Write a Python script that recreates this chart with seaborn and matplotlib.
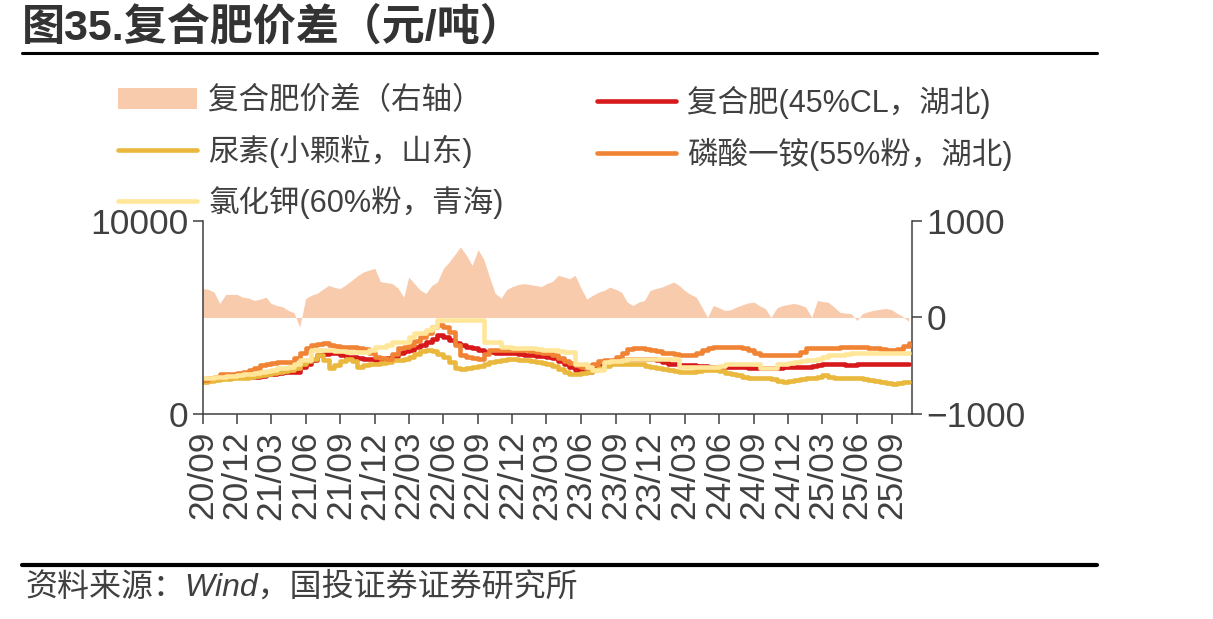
import numpy as np
import pandas as pd
import seaborn as sns
import matplotlib.pyplot as plt
from matplotlib.lines import Line2D
from matplotlib.patches import Patch

# semi-monthly observations, 2020-09-01 .. 2025-10-16 (1st and 16th of each month)
months = pd.date_range("2020-09-01", periods=62, freq="MS")
dates = pd.DatetimeIndex(sorted(list(months) + list(months + pd.Timedelta(days=15))))

spread = [
    300, 290, 262, 145, 238, 238, 238, 210, 200, 176, 190, 210,
    145, 124, 110, 72, 50, -100, 197, 230, 249, 290, 332, 310,
    300, 340, 383, 430, 470, 490, 508, 370, 360, 352, 300, 210,
    418, 350, 280, 249, 330, 366, 508, 573, 650, 729, 642, 539,
    700, 600, 420, 250, 200, 290, 320, 340, 350, 340, 330, 320,
    350, 370, 435, 420, 400, 435, 300, 190, 228, 260, 280, 314,
    290, 262, 160, 124, 160, 176, 280, 300, 314, 340, 366, 330,
    280, 240, 210, 107, 0, 124, 100, 72, 80, 107, 130, 150,
    159, 120, 93, 0, 100, 124, 135, 145, 130, 107, 0, 176,
    165, 159, 110, 55, 45, 41, -31, 41, 60, 75, 85, 93,
    80, 41, 10, -40,
]
compound = [
    1760, 1800, 1850, 1880, 1900, 1930, 1930, 1930, 1930, 1930, 2000, 2100,
    2100, 2150, 2190, 2190, 2190, 2450, 2620, 2800, 3060, 3100, 3140, 3140,
    3050, 2970, 2950, 2900, 2880, 2850, 2800, 2880, 2900, 3000, 3150, 3250,
    3320, 3450, 3600, 3750, 3900, 4090, 4000, 3830, 3700, 3580, 3500, 3400,
    3320, 3230, 3200, 3180, 3150, 3140, 3140, 3100, 3080, 3050, 3020, 3000,
    2970, 2900, 2750, 2600, 2450, 2300, 2190, 2200, 2350, 2500, 2650, 2750,
    2800, 2800, 2850, 2880, 2880, 2880, 2880, 2800, 2700, 2620, 2580, 2540,
    2540, 2540, 2500, 2480, 2460, 2450, 2450, 2450, 2450, 2450, 2420, 2400,
    2380, 2370, 2370, 2370, 2400, 2420, 2450, 2450, 2450, 2450, 2500, 2550,
    2600, 2620, 2620, 2580, 2540, 2540, 2620, 2620, 2620, 2620, 2620, 2620,
    2620, 2620, 2620, 2620,
]
urea = [
    1670, 1700, 1750, 1800, 1820, 1850, 1850, 1870, 1950, 2000, 2050, 2100,
    2150, 2200, 2250, 2300, 2400, 2620, 2750, 2880, 3060, 2800, 2400, 2550,
    2750, 2880, 2750, 2450, 2550, 2620, 2620, 2650, 2700, 2780, 2800, 2850,
    2950, 3100, 3250, 3320, 3250, 3100, 2950, 2700, 2370, 2350, 2400, 2450,
    2500, 2620, 2700, 2750, 2800, 2880, 2850, 2800, 2780, 2750, 2700, 2650,
    2620, 2500, 2350, 2200, 2100, 2100, 2150, 2190, 2300, 2400, 2500, 2580,
    2620, 2620, 2620, 2620, 2600, 2520, 2450, 2400, 2350, 2300, 2250, 2200,
    2190, 2200, 2250, 2280, 2280, 2280, 2250, 2150, 2100, 2050, 1950, 1900,
    1850, 1850, 1850, 1800, 1720, 1670, 1700, 1750, 1800, 1850, 1900, 1950,
    2020, 1950, 1850, 1900, 1850, 1850, 1850, 1800, 1750, 1700, 1650, 1620,
    1590, 1600, 1650, 1670,
]
map_price = [
    1760, 1850, 1950, 2100, 2100, 2100, 2150, 2200, 2280, 2400, 2550, 2620,
    2650, 2700, 2710, 2710, 2900, 3140, 3400, 3580, 3620, 3660, 3600, 3550,
    3490, 3490, 3450, 3400, 3350, 3150, 2970, 2900, 2880, 3100, 3400, 3490,
    3600, 3800, 4010, 4200, 4500, 4610, 4500, 4260, 3580, 3050, 2970, 2900,
    2880, 3100, 3320, 3320, 3320, 3320, 3320, 3320, 3300, 3250, 3200, 3150,
    3140, 3050, 2900, 2750, 2650, 2550, 2450, 2450, 2620, 2750, 2800, 2800,
    2950, 3150, 3350, 3400, 3400, 3350, 3320, 3250, 3150, 3140, 3100, 3060,
    3060, 3060, 3150, 3300, 3400, 3450, 3450, 3470, 3490, 3450, 3400, 3320,
    3150, 3060, 3060, 3060, 3060, 3060, 3060, 3060, 3200, 3400, 3400, 3400,
    3400, 3400, 3400, 3450, 3450, 3470, 3490, 3450, 3400, 3400, 3350, 3320,
    3320, 3350, 3550, 3660,
]
kcl = [
    1850, 1900, 1950, 1950, 2000, 2000, 2050, 2100, 2100, 2150, 2200, 2250,
    2300, 2370, 2370, 2450, 2600, 2800, 2800, 3320, 3320, 3320, 3300, 3280,
    3250, 3230, 3230, 3230, 3230, 3300, 3490, 3490, 3600, 3750, 3750, 3750,
    4000, 4180, 4180, 4350, 4520, 4870, 4870, 4870, 4870, 4870, 4870, 4870,
    4870, 3750, 3750, 3750, 3490, 3490, 3400, 3400, 3400, 3400, 3350, 3320,
    3320, 3300, 3250, 3230, 3230, 2620, 2620, 2450, 2280, 2280, 2710, 2750,
    2750, 2800, 2880, 2880, 2880, 2880, 2880, 2880, 2880, 2880, 2880, 2450,
    2450, 2450, 2450, 2450, 2450, 2450, 2500, 2620, 2620, 2620, 2620, 2620,
    2620, 2370, 2370, 2370, 2620, 2620, 2650, 2700, 2750, 2800, 2800, 2850,
    2950, 3060, 3060, 3060, 3100, 3140, 3140, 3140, 3140, 3140, 3140, 3140,
    3140, 3140, 3140, 3140,
]

labels = ["复合肥价差（右轴）", "复合肥(45%CL，湖北)", "尿素(小颗粒，山东)",
          "磷酸一铵(55%粉，湖北)", "氯化钾(60%粉，青海)"]
C_SPREAD, C_COMP, C_UREA, C_MAP, C_KCL = "#F8CBAD", "#D7191C", "#E9B83C", "#F08334", "#FFE699"
TXT = "#404040"

sns.set_style("white")
plt.rcParams["font.family"] = ["Liberation Sans", "Noto Sans CJK SC", "DejaVu Sans"]
plt.rcParams["axes.unicode_minus"] = True

fig = plt.figure(figsize=(12.13, 6.19), dpi=100)
ax = fig.add_axes([0.1671, 0.3307, 0.5845, 0.3128])
ax2 = ax.twinx()

ax2.fill_between(dates, spread, 0, color=C_SPREAD, lw=0)

df = pd.DataFrame({"date": dates, "comp": compound, "urea": urea, "map": map_price, "kcl": kcl})
for col, c in [("comp", C_COMP), ("urea", C_UREA), ("map", C_MAP), ("kcl", C_KCL)]:
    sns.lineplot(data=df, x="date", y=col, ax=ax, color=c, lw=3.3, drawstyle="steps-post")

ax.set_zorder(ax2.get_zorder() + 1)
ax.patch.set_visible(False)

xend = pd.Timestamp("2025-10-24")
ax.set_xlim(dates[0], xend)
ax.set_ylim(0, 10000)
ax.set_yticks([0, 10000])
ax2.set_ylim(-1000, 1000)
ax2.set_yticks([-1000, 0, 1000])

ticks = pd.date_range("2020-09-01", "2025-09-01", freq="3MS")
ax.set_xticks(ticks)
ax.set_xticklabels([t.strftime("%y/%m") for t in ticks], rotation=90)
ax.set_xlabel("")
ax.set_ylabel("")

for a in (ax, ax2):
    for s in a.spines.values():
        s.set_visible(False)
for s in ("left", "bottom"):
    ax.spines[s].set_visible(True)
    ax.spines[s].set_color(TXT)
    ax.spines[s].set_linewidth(1.1)
ax2.spines["right"].set_visible(True)
ax2.spines["right"].set_color(TXT)
ax2.spines["right"].set_linewidth(1.1)

ax.tick_params(axis="both", direction="out", length=7, width=1.1, color=TXT,
               labelsize=25.5, labelcolor=TXT, left=True, bottom=True)
ax.tick_params(axis="x", pad=5)
ax2.tick_params(axis="y", direction="out", length=7, width=1.1, color=TXT,
                labelsize=25.5, labelcolor=TXT, right=True)

# legend, two columns placed separately
h = [Patch(color=C_SPREAD, lw=0),
     Line2D([], [], color=C_COMP, lw=3.3),
     Line2D([], [], color=C_UREA, lw=3.3),
     Line2D([], [], color=C_MAP, lw=3.3),
     Line2D([], [], color=C_KCL, lw=3.3)]
common = dict(frameon=False, fontsize=22, handlelength=2.6, handletextpad=0.35,
              labelspacing=0.6, borderpad=0, borderaxespad=0, labelcolor=TXT, loc="upper left")
leg1 = fig.legend([h[0], h[2], h[4]], [labels[0], labels[2], labels[4]],
                  bbox_to_anchor=(118 / 1213, 1 - 86 / 619), **common)
leg2 = fig.legend([h[1], h[3]], [labels[1], labels[3]],
                  bbox_to_anchor=(597 / 1213, 1 - 86 / 619), **common)

# title and footer
fig.text(22 / 1213, 1 - 28 / 619, "图35.复合肥价差（元/吨）", fontsize=31,
         fontweight="bold", va="center", ha="left", color="#333333")
fig.add_artist(Line2D([22 / 1213, 1097 / 1213], [1 - 53 / 619] * 2, color="black", lw=2.2))
fig.add_artist(Line2D([22 / 1213, 1097 / 1213], [1 - 565 / 619] * 2, color="black", lw=3))
fig.text(25 / 1213, 1 - 587 / 619, "资料来源：Wind，国投证券证券研究所", fontsize=23,
         style="italic", va="center", ha="left", color=TXT)

fig.savefig("out.png", dpi=100)
